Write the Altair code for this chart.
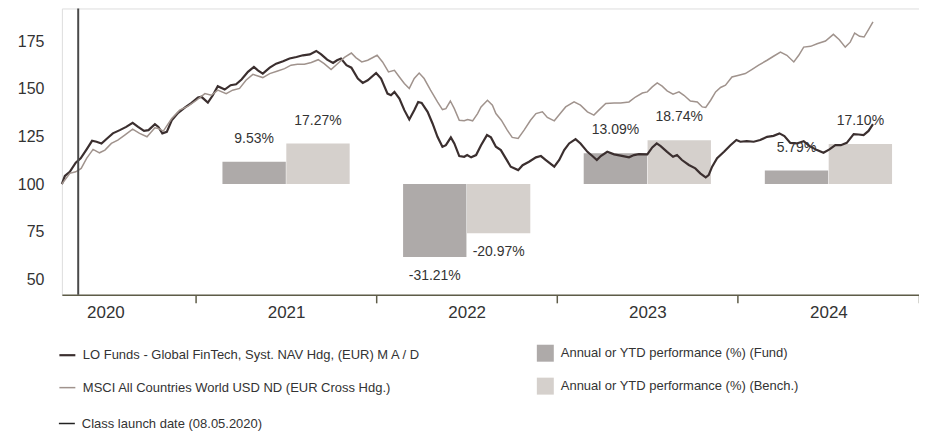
import altair as alt
import pandas as pd

FUND = "LO Funds - Global FinTech, Syst. NAV Hdg, (EUR) M A / D"
BENCH = "MSCI All Countries World USD ND (EUR Cross Hdg.)"
LAUNCH = "Class launch date (08.05.2020)"
BAR_FUND = "Annual or YTD performance (%) (Fund)"
BAR_BENCH = "Annual or YTD performance (%) (Bench.)"

fund_dates = [
    "2020-04-05", "2020-04-11", "2020-04-21", "2020-05-03", "2020-05-13", "2020-05-25", "2020-06-05", "2020-06-14",
    "2020-06-24", "2020-07-07", "2020-07-17", "2020-07-31", "2020-08-13", "2020-08-26", "2020-09-06", "2020-09-18",
    "2020-09-27", "2020-10-10", "2020-10-17", "2020-10-25", "2020-11-03", "2020-11-13", "2020-11-26", "2020-12-10",
    "2020-12-23",
    "2021-01-05", "2021-01-12", "2021-01-25", "2021-02-04", "2021-02-14", "2021-02-28", "2021-03-12", "2021-03-23",
    "2021-04-03", "2021-04-16", "2021-04-28", "2021-05-06", "2021-05-16", "2021-05-30", "2021-06-12", "2021-06-26",
    "2021-07-09", "2021-07-23", "2021-08-05", "2021-08-19", "2021-09-01", "2021-09-11", "2021-09-23", "2021-10-05",
    "2021-10-13", "2021-10-21", "2021-11-01", "2021-11-11", "2021-11-24", "2021-12-04", "2021-12-14", "2021-12-31",
    "2022-01-10", "2022-01-23", "2022-01-30", "2022-02-06", "2022-02-16", "2022-02-26", "2022-03-08", "2022-03-18",
    "2022-03-26", "2022-04-02", "2022-04-14", "2022-04-24", "2022-05-04", "2022-05-14", "2022-05-21", "2022-05-31",
    "2022-06-07", "2022-06-17", "2022-06-27", "2022-07-03", "2022-07-11", "2022-07-21", "2022-07-31", "2022-08-12",
    "2022-08-20", "2022-08-30", "2022-09-09", "2022-09-19", "2022-09-29", "2022-10-14", "2022-10-23", "2022-11-05",
    "2022-11-19", "2022-11-29", "2022-12-09", "2022-12-26",
    "2023-01-05", "2023-01-15", "2023-01-25", "2023-02-07", "2023-02-17", "2023-03-03", "2023-03-13", "2023-03-22",
    "2023-03-30", "2023-04-12", "2023-04-26", "2023-05-09", "2023-05-26", "2023-06-05", "2023-06-15", "2023-07-02",
    "2023-07-12", "2023-07-21", "2023-07-29", "2023-08-11", "2023-08-23", "2023-08-31", "2023-09-10", "2023-09-24",
    "2023-10-07", "2023-10-17", "2023-10-28", "2023-11-03", "2023-11-10", "2023-11-20", "2023-12-04", "2023-12-17",
    "2023-12-29",
    "2024-01-06", "2024-01-19", "2024-02-02", "2024-02-15", "2024-02-29", "2024-03-13", "2024-03-25", "2024-04-04",
    "2024-04-16", "2024-04-29", "2024-05-13", "2024-05-25", "2024-06-09", "2024-06-22", "2024-07-04", "2024-07-16",
    "2024-07-27", "2024-08-08", "2024-08-22", "2024-09-01", "2024-09-11", "2024-09-21", "2024-09-30",
]
fund_values = [
    100, 104.2, 106.4, 111.2, 113.5, 118.2, 122.7, 122.2, 121.3, 124.3, 126.6, 128.3, 130, 132.1, 130, 127.9,
    128.3, 131.4, 130, 126.6, 127.4, 133.5, 137.4, 140.2, 142.6,
    145.4, 145.8, 142.8, 146.6, 151.4, 149.6, 151.9, 152.4, 154.9, 158.9, 161.5, 159.7, 158, 161.1, 163.2, 164.5,
    165.9, 166.7, 167.6, 168.1, 169.9, 168.1, 165.3, 163.6, 165, 165.9, 162.4, 161.1, 155.4, 153.1, 154.5, 158.3,
    155.4, 147.5, 146.6, 148.4, 144.9, 138.8, 133.9, 138.8, 143.1, 142.6, 137.9, 131.8, 124.8, 119.6, 120.4, 124.5,
    121.3, 114.7, 114.3, 115.2, 114.0, 115.2, 120.4, 125.7, 124.5, 119.6, 117.8, 113.5, 109.1, 107.3, 109.9, 111.7,
    114, 114.7, 112.6, 109.1,
    112.6, 117.8, 121.3, 123.6, 121.3, 116.9, 114.7, 112.6, 114.7, 116.9, 115.6, 114.9, 114, 115.2, 115.7, 115.6,
    119.2, 121.3, 119.9, 116.9, 114.3, 115.2, 112.6, 110, 108.2, 105.6, 103.5, 104.7, 109.1, 113.5, 116.9, 120.4,
    123.1,
    122.2, 122.5, 122.2, 123.1, 124.8, 125.3, 126.6, 125.2, 121.6, 121.3, 122.5, 119.9, 117.8, 116.4, 118.2, 120.4,
    120.4, 121.6, 126.2, 126, 125.7, 127.9, 131.4,
]

bench_dates = [
    "2020-04-05", "2020-04-21", "2020-05-03", "2020-05-14", "2020-05-25", "2020-06-07", "2020-06-20", "2020-07-01",
    "2020-07-14", "2020-07-27", "2020-08-10", "2020-08-26", "2020-09-09", "2020-09-24", "2020-10-10", "2020-10-17",
    "2020-10-27", "2020-11-13", "2020-11-29", "2020-12-16",
    "2021-01-02", "2021-01-19", "2021-02-01", "2021-02-14", "2021-03-03", "2021-03-16", "2021-03-30", "2021-04-12",
    "2021-04-26", "2021-05-16", "2021-05-30", "2021-06-15", "2021-06-29", "2021-07-12", "2021-07-25", "2021-08-08",
    "2021-08-22", "2021-09-05", "2021-09-17", "2021-10-01", "2021-10-14", "2021-10-28", "2021-11-11", "2021-11-20",
    "2021-12-02", "2021-12-14",
    "2022-01-02", "2022-01-13", "2022-01-25", "2022-02-06", "2022-02-16", "2022-02-26", "2022-03-08", "2022-03-18",
    "2022-03-28", "2022-04-07", "2022-04-20", "2022-05-04", "2022-05-14", "2022-05-21", "2022-05-30", "2022-06-07",
    "2022-06-17", "2022-06-27", "2022-07-04", "2022-07-14", "2022-07-24", "2022-07-31", "2022-08-13", "2022-08-23",
    "2022-08-30", "2022-09-10", "2022-09-22", "2022-10-02", "2022-10-14", "2022-10-26", "2022-11-08", "2022-11-19",
    "2022-12-02", "2022-12-12", "2022-12-26",
    "2023-01-07", "2023-01-18", "2023-02-04", "2023-02-17", "2023-03-03", "2023-03-16", "2023-03-26", "2023-04-09",
    "2023-04-26", "2023-05-09", "2023-05-26", "2023-06-08", "2023-06-22", "2023-07-02", "2023-07-12", "2023-07-22",
    "2023-08-01", "2023-08-11", "2023-08-23", "2023-09-04", "2023-09-14", "2023-09-27", "2023-10-11", "2023-10-21",
    "2023-10-28", "2023-11-07", "2023-11-17", "2023-11-27", "2023-12-07", "2023-12-20",
    "2024-01-03", "2024-01-16", "2024-01-29", "2024-02-12", "2024-02-29", "2024-03-13", "2024-03-27", "2024-04-09",
    "2024-04-23", "2024-05-03", "2024-05-13", "2024-05-27", "2024-06-09", "2024-06-26", "2024-07-12", "2024-07-24",
    "2024-08-05", "2024-08-15", "2024-08-24", "2024-09-03", "2024-09-12", "2024-09-21", "2024-09-30",
]
bench_values = [
    100, 105.6, 106.4, 108.2, 113.5, 118.2, 116.4, 117.8, 121.3, 123.1, 125.7, 128.8, 126.6, 124.8, 129.5, 129.2,
    127.8, 134.4, 138.8, 140.9,
    144.0, 147.5, 146.6, 149.3, 147.5, 149.3, 150.2, 154.5, 157.6, 155.9, 158, 159.4, 160.6, 162.4, 162.9, 162.9,
    163.8, 165.3, 163.2, 160.1, 163.2, 166.5, 168.8, 166.4, 164.1, 165,
    167.6, 164.1, 158.9, 159.7, 156.2, 152.8, 150.2, 155.4, 158.3, 155.4, 149.3, 143.1, 139.1, 139.6, 143.6, 139.6,
    133.5, 133.2, 133.9, 133.2, 137, 140.5, 144, 141.4, 137, 133.5, 128.3, 124.5, 123.9, 128.3, 133.5, 137,
    137.9, 135, 133.2,
    137, 140.5, 143.1, 141.4, 137.9, 136.2, 138.8, 142.3, 142.6, 142.6, 143.1, 145.7, 147.8, 148.4, 151, 153.1,
    151.4, 148.9, 147.2, 148.4, 146.6, 143.6, 143.1, 140.5, 140.2, 144, 148.4, 150.7, 151.9, 156.2,
    157.1, 158, 160.1, 162.4, 165, 167.1, 169.3, 167.6, 164.1, 167.6, 171.9, 172.3, 173.7, 175.1, 178.6, 175.8,
    171.9, 174.5, 179.3, 177.6, 177.2, 181.1, 185.1,
]

years = [2021, 2022, 2023, 2024]
fund_perf = [9.53, -31.21, 13.09, 5.79]
bench_perf = [17.27, -20.97, 18.74, 17.10]
launch_date = "2020-05-08"
y_ticks = [50, 75, 100, 125, 150, 175]

# ---------------- styling ----------------
FONT = "Liberation Sans, Arial, sans-serif"
TXT = "#333333"
Y_DOMAIN = [41.8, 192.2]
BAR_K = 1.23  # bar percentage scale relative to index axis
BAR_DOMAIN = [(Y_DOMAIN[0] - 100) / BAR_K, (Y_DOMAIN[1] - 100) / BAR_K]
X_DOMAIN = [alt.DateTime(year=2020, month=4, date=5), alt.DateTime(year=2025, month=1, date=1)]

lines_df = pd.concat([
    pd.DataFrame({"date": fund_dates, "value": fund_values, "series": FUND}),
    pd.DataFrame({"date": bench_dates, "value": bench_values, "series": BENCH}),
], ignore_index=True)

bars_df = pd.DataFrame({
    "mid": [f"{y}-07-02" for y in years] * 2,
    "perf": fund_perf + bench_perf,
    "series": [BAR_FUND] * len(years) + [BAR_BENCH] * len(years),
})
bars_df["label"] = bars_df["perf"].map(lambda v: f"{v:.2f}%")

launch_df = pd.DataFrame({"date": [launch_date], "name": [LAUNCH]})

tick_values = [alt.DateTime(year=y, month=1, date=1) for y in range(2021, 2026)] + \
              [alt.DateTime(year=y, month=7, date=2) for y in range(2020, 2025)]

x_axis = alt.Axis(
    values=tick_values, title=None, grid=False,
    domainColor="#5e5c48", domainWidth=1.5,
    tickColor="#5e5c48", tickWidth=1.5, tickSize=8,
    tickOpacity={"condition": {"test": "month(datum.value) == 0", "value": 1}, "value": 0},
    labelExpr="month(datum.value) == 6 ? timeFormat(datum.value, '%Y') : ''",
    labelFont=FONT, labelFontSize=17, labelColor=TXT, labelPadding=2,
    labelOverlap=False, labelFlush=False, labelBound=False,
)
x_scale = alt.Scale(domain=X_DOMAIN, nice=False, padding=0)

legend_common = dict(title=None, orient="none", padding=0, labelFont=FONT, labelFontSize=13,
                     labelColor=TXT, rowPadding=16, labelLimit=600)

fill_enc = alt.Fill("series:N",
                    scale=alt.Scale(domain=[BAR_FUND, BAR_BENCH], range=["#aeaaa9", "#d5d0cc"]),
                    legend=alt.Legend(legendX=476, legendY=337, symbolType="square", symbolSize=289,
                                      symbolStrokeWidth=0, labelOffset=7, **legend_common))

ybar = alt.Y("perf:Q", scale=alt.Scale(domain=BAR_DOMAIN, nice=False, zero=False), axis=None)
xbar = alt.X("mid:T", scale=x_scale, axis=x_axis)

base_bars = alt.Chart(bars_df)
layers = []
for name, off in [(BAR_FUND, -32), (BAR_BENCH, 32)]:
    b = base_bars.transform_filter(alt.datum.series == name)
    layers.append(b.mark_bar(width=63.5, xOffset=off).encode(x=xbar, y=ybar, y2=alt.datum(0), fill=fill_enc))
    layers.append(b.transform_filter(alt.datum.perf >= 0).mark_text(
        xOffset=off, dy=-19, baseline="alphabetic", font=FONT, fontSize=14, color=TXT
    ).encode(x=xbar, y=ybar, text="label:N"))
    layers.append(b.transform_filter(alt.datum.perf < 0).mark_text(
        xOffset=off, dy=23, baseline="alphabetic", font=FONT, fontSize=14, color=TXT
    ).encode(x=xbar, y=ybar, text="label:N"))

lines = alt.Chart(lines_df).mark_line().encode(
    x=alt.X("date:T", scale=x_scale, axis=x_axis),
    y=alt.Y("value:Q", scale=alt.Scale(domain=Y_DOMAIN, nice=False, zero=False),
            axis=alt.Axis(values=y_ticks, title=None, domain=False, ticks=False, labelPadding=18,
                          labelFont=FONT, labelFontSize=16, labelColor=TXT,
                          gridColor="#d4d4d4", gridWidth=1.5)),
    color=alt.Color("series:N",
                    scale=alt.Scale(domain=[FUND, BENCH], range=["#3b2f2f", "#a0938d"]),
                    legend=alt.Legend(legendX=-4, legendY=338, symbolType="stroke", symbolSize=256,
                                      symbolStrokeWidth=2, labelOffset=6, **legend_common)),
    strokeWidth=alt.StrokeWidth("series:N", scale=alt.Scale(domain=[FUND, BENCH], range=[2.2, 1.5]),
                                legend=None),
    order=alt.Order("date:T"),
)

launch = alt.Chart(launch_df).mark_rule(color="#4a4a4a", strokeWidth=2).encode(
    x=alt.X("date:T", scale=x_scale, axis=x_axis),
    strokeDash=alt.StrokeDash("name:N", scale=alt.Scale(domain=[LAUNCH], range=[[1, 0]]),
                              legend=alt.Legend(legendX=-4, legendY=407, symbolType="stroke",
                                                symbolSize=256, symbolStrokeWidth=1.5,
                                                symbolStrokeColor="#222222", labelOffset=6,
                                                **legend_common)),
)

chart = alt.layer(*layers, lines, launch).resolve_scale(y="independent").properties(
    width=859, height=287,
    autosize=alt.AutoSizeParams(type="none"),
    padding={"left": 54, "top": 0, "right": 0, "bottom": 137},
).configure_view(stroke=None).configure(background="white")

chart.save("out.html", embed_options={"renderer": "svg", "actions": False})
